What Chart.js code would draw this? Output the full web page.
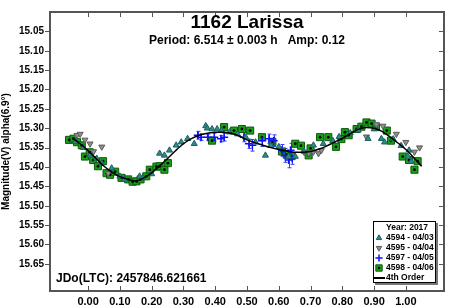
<!DOCTYPE html>
<html>
<head>
<meta charset="utf-8">
<script src="https://cdn.jsdelivr.net/npm/chart.js@4/dist/chart.umd.min.js"></script>
<style>
  html, body { margin: 0; padding: 0; background: #fff; }
</style>
</head>
<body>
<canvas id="lc" width="450" height="308"></canvas>
<script>
// tick labels
var xTicks = [0.0, 0.1, 0.2, 0.3, 0.4, 0.5, 0.6, 0.7, 0.8, 0.9, 1.0];
var yTicks = [15.05, 15.10, 15.15, 15.20, 15.25, 15.30, 15.35, 15.40, 15.45, 15.50, 15.55, 15.60, 15.65];

// 4th order fit
var fitPhase = [-0.05, -0.025, 0.0, 0.025, 0.05, 0.075, 0.1, 0.125, 0.15, 0.175, 0.2, 0.225, 0.25, 0.275, 0.3, 0.325, 0.35, 0.375, 0.4, 0.425, 0.45, 0.475, 0.5, 0.525, 0.55, 0.575, 0.6, 0.625, 0.65, 0.675, 0.7, 0.725, 0.75, 0.775, 0.8, 0.825, 0.85, 0.875, 0.9, 0.925, 0.95, 0.975, 1.0, 1.025, 1.05];
var fitMag = [15.325, 15.340, 15.358, 15.378, 15.398, 15.413, 15.425, 15.432, 15.436, 15.428, 15.415, 15.397, 15.378, 15.358, 15.340, 15.327, 15.318, 15.313, 15.310, 15.310, 15.313, 15.320, 15.330, 15.337, 15.344, 15.350, 15.355, 15.359, 15.362, 15.362, 15.360, 15.354, 15.346, 15.336, 15.326, 15.314, 15.303, 15.298, 15.300, 15.308, 15.322, 15.338, 15.355, 15.376, 15.398];

// 4594 - 04/03
var phase4594 = [-0.040, -0.015, 0.006, 0.027, 0.043, 0.074, 0.100, 0.115, 0.162, 0.172, 0.200, 0.225, 0.240, 0.256, 0.277, 0.293, 0.313, 0.334, 0.370, 0.375, 0.390, 0.406, 0.420, 0.445, 0.470, 0.496, 0.527, 0.558, 0.575, 0.600, 0.631, 0.652, 0.680, 0.709, 0.740, 0.770, 0.790, 0.825, 0.850, 0.881, 0.900, 0.923, 0.933, 0.960, 0.985, 1.006, 1.010, 1.017];
var mag4594 = [15.335, 15.350, 15.370, 15.378, 15.390, 15.403, 15.424, 15.432, 15.424, 15.428, 15.418, 15.365, 15.370, 15.357, 15.344, 15.336, 15.327, 15.340, 15.294, 15.300, 15.302, 15.302, 15.306, 15.310, 15.315, 15.323, 15.336, 15.370, 15.345, 15.348, 15.373, 15.373, 15.360, 15.344, 15.340, 15.332, 15.322, 15.312, 15.305, 15.327, 15.302, 15.327, 15.336, 15.328, 15.345, 15.373, 15.357, 15.386];

// 4595 - 04/04
var phase4595 = [-0.035, -0.025, -0.010, 0.006, 0.017, 0.043, 0.063, 0.680, 0.694, 0.709, 0.725, 0.734, 0.876, 0.907, 0.928, 0.970, 1.000, 1.027, 1.043];
var mag4595 = [15.318, 15.315, 15.330, 15.340, 15.360, 15.348, 15.416, 15.362, 15.365, 15.361, 15.365, 15.357, 15.322, 15.290, 15.294, 15.315, 15.336, 15.361, 15.350];

// 4597 - 04/05 (with errors)
var phase4597 = [0.345, 0.355, 0.376, 0.397, 0.418, 0.428, 0.490, 0.506, 0.517, 0.548, 0.569, 0.584, 0.610, 0.620, 0.631, 0.637, 0.642];
var mag4597 = [15.318, 15.323, 15.323, 15.323, 15.327, 15.323, 15.323, 15.340, 15.344, 15.332, 15.327, 15.332, 15.357, 15.370, 15.382, 15.357, 15.378];
var err4597 = [0.010, 0.008, 0.008, 0.010, 0.008, 0.010, 0.012, 0.012, 0.015, 0.015, 0.012, 0.015, 0.015, 0.018, 0.020, 0.018, 0.015];

// 4598 - 04/06
var phase4598 = [-0.060, -0.046, -0.035, -0.020, -0.010, 0.005, 0.016, 0.031, 0.047, 0.058, 0.069, 0.085, 0.105, 0.126, 0.140, 0.152, 0.165, 0.183, 0.194, 0.215, 0.225, 0.240, 0.251, 0.390, 0.428, 0.459, 0.484, 0.510, 0.547, 0.580, 0.610, 0.625, 0.640, 0.652, 0.670, 0.694, 0.700, 0.730, 0.756, 0.780, 0.797, 0.808, 0.820, 0.845, 0.860, 0.876, 0.892, 0.906, 0.940, 0.953, 0.990, 1.010, 1.027, 1.037];
var mag4598 = [15.330, 15.327, 15.336, 15.344, 15.373, 15.362, 15.382, 15.398, 15.385, 15.416, 15.420, 15.412, 15.428, 15.432, 15.438, 15.437, 15.432, 15.424, 15.407, 15.399, 15.398, 15.407, 15.390, 15.332, 15.297, 15.306, 15.302, 15.306, 15.323, 15.335, 15.360, 15.368, 15.372, 15.340, 15.345, 15.370, 15.352, 15.323, 15.323, 15.348, 15.328, 15.310, 15.318, 15.302, 15.296, 15.285, 15.288, 15.297, 15.306, 15.332, 15.373, 15.382, 15.407, 15.385];

var FONT = '"Liberation Sans", Arial, sans-serif';

function pts(xs, ys) {
    return xs.map(function (v, i) { return { x: v, y: ys[i] }; });
}

var looks = [
    { label: '4594 - 04/03', style: 'triangle', rot: 0, r: 3.5, bg: '#2e8b8b', bd: '#1c5f5f', bw: 1 },
    { label: '4595 - 04/04', style: 'triangle', rot: 180, r: 3.5, bg: '#8e8e8e', bd: '#5c5c5c', bw: 1 },
    { label: '4597 - 04/05', style: 'cross', rot: 0, r: 4, bg: '#1010ff', bd: '#1010ff', bw: 1.5 },
    { label: '4598 - 04/06', style: 'rect', rot: 0, r: 5, bg: '#17a017', bd: '#0c5a0c', bw: 1 }
];

var extras = {
    id: 'extras',
    beforeDatasetsDraw: function (chart) {
        var ctx = chart.ctx, x = chart.scales.x, y = chart.scales.y;
        ctx.save();
        ctx.strokeStyle = '#3a3aff';
        ctx.lineWidth = 1;
        phase4597.forEach(function (p, i) {
            var px = Math.round(x.getPixelForValue(p)) + 0.5;
            var y1 = y.getPixelForValue(mag4597[i] - err4597[i]);
            var y2 = y.getPixelForValue(mag4597[i] + err4597[i]);
            ctx.beginPath();
            ctx.moveTo(px, y1); ctx.lineTo(px, y2);
            ctx.moveTo(px - 2, y1); ctx.lineTo(px + 2, y1);
            ctx.moveTo(px - 2, y2); ctx.lineTo(px + 2, y2);
            ctx.stroke();
        });
        ctx.restore();
    },
    afterDatasetDraw: function (chart, args) {
        if (args.index !== 4) return;
        var ctx = chart.ctx, x = chart.scales.x, y = chart.scales.y;
        ctx.save();
        ctx.fillStyle = '#000';
        phase4598.forEach(function (p, i) {
            ctx.beginPath();
            ctx.arc(x.getPixelForValue(p), y.getPixelForValue(mag4598[i]), 1.4, 0, Math.PI * 2);
            ctx.fill();
        });
        ctx.restore();
    },
    afterDraw: function (chart) {
        var ctx = chart.ctx, a = chart.chartArea, x = chart.scales.x, y = chart.scales.y;
        ctx.save();

        // frame
        ctx.strokeStyle = '#555';
        ctx.lineWidth = 2;
        ctx.strokeRect(a.left, a.top, a.right - a.left, a.bottom - a.top);

        // tick marks
        ctx.lineWidth = 1;
        ctx.beginPath();
        xTicks.forEach(function (v) {
            var px = Math.round(x.getPixelForValue(v)) + 0.5;
            ctx.moveTo(px, a.top); ctx.lineTo(px, a.top + 5);
            ctx.moveTo(px, a.bottom); ctx.lineTo(px, a.bottom - 5);
        });
        yTicks.forEach(function (v) {
            var py = Math.round(y.getPixelForValue(v)) + 0.5;
            ctx.moveTo(a.left - 5, py); ctx.lineTo(a.left, py);
            ctx.moveTo(a.right, py); ctx.lineTo(a.right - 5, py);
        });
        ctx.stroke();

        // titles
        var cx = (a.left + a.right) / 2;
        ctx.fillStyle = '#000';
        ctx.textAlign = 'center';
        ctx.textBaseline = 'middle';
        ctx.font = 'bold 19px ' + FONT;
        ctx.fillText('1162 Larissa', cx, 23);
        ctx.font = 'bold 12px ' + FONT;
        ctx.fillText('Period: 6.514 \u00b1 0.003 h   Amp: 0.12', cx, 41);
        ctx.textAlign = 'left';
        ctx.fillText('JDo(LTC): 2457846.621661', 56, 279);

        // legend box
        var lx = 373, ly = 221, lw = 63, lh = 62;
        ctx.fillStyle = '#777';
        ctx.fillRect(lx + 2, ly + 2, lw, lh);
        ctx.fillStyle = '#fff';
        ctx.fillRect(lx, ly, lw, lh);
        ctx.strokeStyle = '#000';
        ctx.lineWidth = 1;
        ctx.strokeRect(lx + 0.5, ly + 0.5, lw - 1, lh - 1);

        ctx.font = 'bold 8.5px ' + FONT;
        ctx.fillStyle = '#000';
        ctx.fillText('Year: 2017', 386, ly + 7);
        looks.forEach(function (s, i) {
            var ry = ly + 17 + i * 10;
            ctx.fillStyle = s.bg;
            ctx.strokeStyle = s.bd;
            ctx.lineWidth = s.bw;
            Chart.helpers.drawPoint(ctx, { pointStyle: s.style, radius: s.r * 0.9, rotation: s.rot, borderWidth: s.bw }, 379, ry);
            if (i === 3) {
                ctx.fillStyle = '#000';
                ctx.beginPath(); ctx.arc(379, ry, 1.3, 0, Math.PI * 2); ctx.fill();
            }
            ctx.fillStyle = '#000';
            ctx.fillText(s.label, 386, ry);
        });
        var fy = ly + 57;
        ctx.strokeStyle = '#000';
        ctx.lineWidth = 2;
        ctx.beginPath(); ctx.moveTo(374, fy); ctx.lineTo(385, fy); ctx.stroke();
        ctx.fillText('4th Order', 386, fy);

        ctx.restore();
    }
};

var sets = [{
    type: 'line',
    label: '4th Order',
    data: pts(fitPhase, fitMag),
    borderColor: '#000',
    borderWidth: 1.5,
    pointRadius: 0,
    fill: false,
    cubicInterpolationMode: 'monotone'
}];
[[phase4594, mag4594], [phase4595, mag4595], [phase4597, mag4597], [phase4598, mag4598]].forEach(function (d, i) {
    var s = looks[i];
    sets.push({
        type: 'scatter',
        label: s.label,
        data: pts(d[0], d[1]),
        pointStyle: s.style,
        pointRotation: s.rot,
        pointRadius: s.r,
        pointBackgroundColor: s.bg,
        pointBorderColor: s.bd,
        pointBorderWidth: s.bw,
        showLine: false
    });
});

var lc = new Chart(document.getElementById('lc'), {
    data: { datasets: sets },
    plugins: [extras],
    options: {
        responsive: false,
        animation: false,
        devicePixelRatio: 1,
        layout: { padding: { top: 4, right: 3, left: 0, bottom: 0 } },
        plugins: {
            legend: { display: false },
            tooltip: { enabled: false }
        },
        scales: {
            x: {
                type: 'linear',
                min: -0.12,
                max: 1.12,
                afterBuildTicks: function (s) { s.ticks = xTicks.map(function (v) { return { value: v }; }); },
                afterFit: function (s) { s.height = 17; },
                grid: { display: false, drawTicks: false },
                border: { display: false },
                ticks: {
                    color: '#000',
                    padding: 4,
                    maxRotation: 0,
                    font: { family: FONT, size: 11, weight: 'bold' },
                    callback: function (v) { return Number(v).toFixed(2); }
                }
            },
            y: {
                type: 'linear',
                reverse: true,
                min: 15.0,
                max: 15.72,
                afterBuildTicks: function (s) { s.ticks = yTicks.map(function (v) { return { value: v }; }); },
                afterFit: function (s) { s.width = 50; },
                grid: { display: false, drawTicks: false },
                border: { display: false },
                ticks: {
                    color: '#000',
                    padding: 6,
                    font: { family: FONT, size: 10, weight: 'bold' },
                    callback: function (v) { return Number(v).toFixed(2); }
                },
                title: {
                    display: true,
                    text: 'Magnitude(V) alpha(6.9\u00b0)',
                    color: '#000',
                    padding: { top: 0, bottom: 0 },
                    font: { family: FONT, size: 10, weight: 'bold' }
                }
            }
        }
    }
});
</script>
</body>
</html>
